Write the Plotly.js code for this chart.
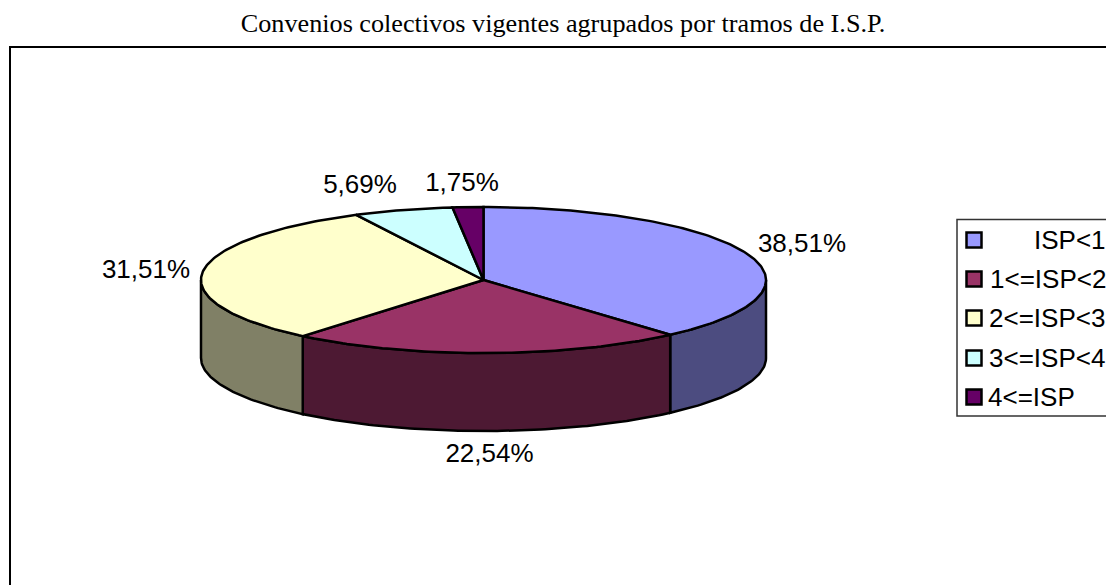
<!DOCTYPE html>
<html>
<head>
<meta charset="utf-8">
<script src="https://cdn.plot.ly/plotly-3.0.1.min.js"></script>
<style>html,body{margin:0;padding:0;background:#fff;overflow:hidden}#chart{width:1106px;height:585px}</style>
</head>
<body>
<div id="chart"></div>
<script>
// Data
const categories = ["ISP<1", "1<=ISP<2", "2<=ISP<3", "3<=ISP<4", "4<=ISP"];
const shares = [38.51, 22.54, 31.51, 5.69, 1.75];
const chartTitle = "Convenios colectivos vigentes agrupados por tramos de I.S.P.";

// Styles
const topColors = ["#9999FF", "#993366", "#FFFFCC", "#CCFFFF", "#660066"];
const sideColors = ["#4C4C80", "#4D1933", "#808066", "#668080", "#330033"];

// Layout (all in axis units, which equal page pixels)
const cx = 483.5, cy = 280, rx = 282.5, ry = 73, depth = 78;
const labelX = [802, 489.5, 146, 360, 462];
const labelY = [245, 455, 271, 186.5, 184];
const legendRowsY = [240, 279, 318, 358, 397];
const legendTextY = [242, 281, 320, 360, 399];
const legendSwatchX = 974;
const legendTextX = [1034, 990, 989, 989, 988];

const rad = d => d * Math.PI / 180;
const px = a => cx + rx * Math.sin(rad(a));
const py = (a, dz) => cy - ry * Math.cos(rad(a)) + (dz || 0);

const total = shares.reduce((s, v) => s + v, 0);
const starts = [], ends = [];
shares.reduce((acc, v, i) => {
  starts[i] = acc / total * 360;
  ends[i] = (acc + v) / total * 360;
  return acc + v;
}, 0);

function arc(a, b) {
  const out = [];
  const n = Math.max(2, Math.ceil(Math.abs(b - a)));
  for (let i = 0; i <= n; i++) out.push(a + (b - a) * i / n);
  return out;
}
const line = {color: "#000", width: 2.5};
const traces = [];

// Visible outer walls (front half of the drum)
shares.forEach((v, i) => {
  const a = Math.max(starts[i], 90), b = Math.min(ends[i], 270);
  if (b <= a) return;
  const top = arc(a, b), bottom = arc(b, a);
  traces.push({
    type: "scatter", mode: "lines", fill: "toself", fillcolor: sideColors[i], line,
    x: top.map(px).concat(bottom.map(px)).concat([px(a)]),
    y: top.map(t => py(t)).concat(bottom.map(t => py(t, depth))).concat([py(a)]),
    hoverinfo: "skip", showlegend: false
  });
});

// Top faces
shares.forEach((v, i) => {
  const pts = arc(starts[i], ends[i]);
  traces.push({
    type: "scatter", mode: "lines", fill: "toself", fillcolor: topColors[i], line,
    x: [cx].concat(pts.map(px)).concat([cx]),
    y: [cy].concat(pts.map(t => py(t))).concat([cy]),
    name: categories[i], hoverinfo: "skip", showlegend: false
  });
});

// Value labels
traces.push({
  type: "scatter", mode: "text", x: labelX, y: labelY,
  text: shares.map(v => v.toFixed(2).replace(".", ",") + "%"),
  textposition: "middle center", cliponaxis: false,
  textfont: {family: "Liberation Sans, Arial, sans-serif", size: 26, color: "#000"},
  hoverinfo: "skip", showlegend: false
});

// Legend swatches and text
traces.push({
  type: "scatter", mode: "markers", x: categories.map(() => legendSwatchX), y: legendRowsY,
  marker: {symbol: "square", size: 15, color: topColors, line: {color: "#000", width: 2.5}},
  hoverinfo: "skip", showlegend: false
});
traces.push({
  type: "scatter", mode: "text", x: legendTextX, y: legendTextY, text: categories,
  textposition: "middle right", cliponaxis: false,
  textfont: {family: "Liberation Sans, Arial, sans-serif", size: 26, color: "#000"},
  hoverinfo: "skip", showlegend: false
});

const layout = {
  width: 1106, height: 585,
  margin: {l: 0, r: 0, t: 0, b: 0},
  paper_bgcolor: "#fff", plot_bgcolor: "#fff",
  showlegend: false,
  title: {
    text: chartTitle, x: 563 / 1106, xanchor: "center", y: 1 - 23 / 585, yanchor: "middle",
    font: {family: "Liberation Serif, Times New Roman, serif", size: 26.2, color: "#000"}
  },
  xaxis: {range: [0, 1106], visible: false, fixedrange: true},
  yaxis: {range: [585, 0], visible: false, fixedrange: true},
  shapes: [
    {type: "path", path: "M 10 590 L 10 47 L 1110 47", line: {color: "#000", width: 2}},
    {type: "path", path: "M 1110 219.5 L 957 219.5 L 957 416 L 1110 416", line: {color: "#333", width: 1.5}}
  ]
};

Plotly.newPlot("chart", traces, layout, {displayModeBar: false, staticPlot: true});
</script>
</body>
</html>
